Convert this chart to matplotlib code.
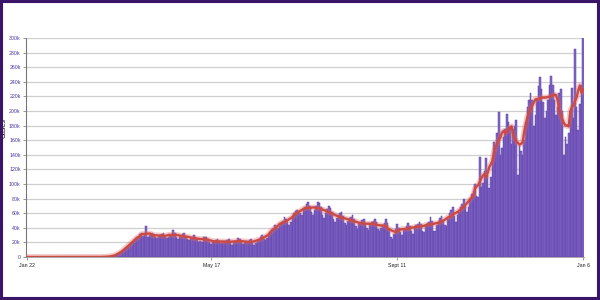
import matplotlib
matplotlib.use('Agg')
import matplotlib.pyplot as plt
import matplotlib.patches as patches
import numpy as np
import pandas as pd

# daily new cases (thousands), one value per day starting Jan 22
early_days = [0.0] * 39
march_start = [0.01, 0.02, 0.02, 0.03, 0.03, 0.05, 0.1, 0.1, 0.1, 0.2, 0.3, 0.4, 0.5, 0.6]
spring = [
    0.8, 1.2, 1.8, 2.5, 3.5, 5.0, 6.5, 8.5, 10.0, 11.5,
    13.5, 17, 18, 19.5, 21, 24, 26, 28, 31, 33,
    29, 30, 42, 28, 30, 32, 33, 31, 27, 26,
    29, 30, 31, 33, 28, 26, 27, 29, 32, 37,
    33, 27, 25, 28, 29, 31, 33, 29, 24, 23,
    25, 28, 30, 27, 26, 21, 22, 21, 28, 27,
    27, 25, 20, 18,
]
early_summer = [
    21, 22, 23, 24, 22, 19, 19, 20, 22, 23, 24, 20, 17, 21, 20, 22, 26,
    24, 22, 18, 19, 21, 21, 23, 25, 19, 17, 19, 23, 25, 27, 30, 24, 23,
]
weeks = [
    [26, 31, 34, 37, 39, 44, 41],
    [40, 42, 45, 50, 55, 52, 48],
    [44, 48, 56, 60, 63, 64, 62],
    [60, 58, 66, 68, 72, 75, 70],
    [62, 58, 65, 70, 76, 74, 68],
    [58, 54, 60, 66, 70, 67, 62],
    [52, 48, 54, 58, 60, 62, 56],
    [46, 44, 50, 53, 55, 57, 52],
    [42, 38, 46, 48, 51, 52, 47],
    [40, 37, 45, 48, 50, 52, 48],
    [38, 35, 40, 44, 46, 52, 46],
    [38, 28, 24, 32, 38, 45, 40],
    [34, 30, 38, 38, 42, 46, 42],
    [35, 32, 40, 44, 45, 48, 45],
    [36, 34, 42, 46, 48, 55, 50],
    [36, 35, 44, 50, 54, 56, 50],
    [44, 42, 52, 60, 64, 68, 56],
    [48, 58, 62, 68, 72, 80, 70],
    [62, 68, 80, 86, 90, 100, 84],
    [82, 137, 96, 102, 118, 135, 112],
    [95, 110, 135, 158, 145, 170, 198],
    [140, 150, 165, 175, 196, 185, 175],
    [155, 175, 180, 188, 112, 155, 145],
    [140, 160, 185, 205, 215, 225, 215],
    [180, 195, 215, 234, 247, 230, 212],
    [190, 200, 215, 235, 248, 235, 215],
    [195, 205, 225, 230, 200, 140, 165],
    [155, 170, 200, 232, 190, 285, 205, 174, 210, 235, 301],
]

cases = early_days + march_start + spring + early_summer + [v for w in weeks for v in w]
days = np.arange(len(cases))
avg = pd.Series(cases).rolling(7, center=True, min_periods=1).mean()

x_ticks = [0, 116, 233, 350]
x_labels = ['Jan 22', 'May 17', 'Sept 11', 'Jan 6']
y_ticks = list(range(0, 301, 20))
y_labels = ['0'] + [f'{v}k' for v in y_ticks[1:]]

plt.rcParams['font.family'] = ['Liberation Sans', 'DejaVu Sans']

fig = plt.figure(figsize=(6, 3), dpi=100)
ax = fig.add_axes([0.0437, 0.1433, 0.9293, 0.73])

ax.bar(days, cases, width=1.0, color='#8266c6', edgecolor='#5c3fa8', linewidth=0.35, zorder=2)
ax.plot(days, avg, color='#e06a66', linewidth=4.2, alpha=0.35, zorder=3, solid_capstyle='round')
ax.plot(days, avg, color='#cc4a44', linewidth=1.7, zorder=4, solid_capstyle='round')

ax.set_xlim(-0.5, 350.5)
ax.set_ylim(0, 300)
ax.set_xticks(x_ticks)
ax.set_xticklabels(x_labels, fontsize=3.8, color='#222222')
ax.set_yticks(y_ticks)
ax.set_yticklabels(y_labels, fontsize=3.8, color='#4a36a6')
ax.tick_params(axis='both', length=2.5, width=0.6, color='#888888', pad=1.5)

ax.grid(axis='y', color='#cfcfcf', linewidth=0.9, zorder=0)
ax.set_axisbelow(True)
for side in ['top', 'right']:
    ax.spines[side].set_visible(False)
ax.spines['left'].set_color('#777777')
ax.spines['left'].set_linewidth(0.8)
ax.spines['bottom'].set_color('#999999')
ax.spines['bottom'].set_linewidth(0.6)

ax.set_ylabel('Cases', fontsize=5, color='#111111')
ax.yaxis.set_label_coords(-0.034, 0.59)

fig.patches.append(patches.Rectangle((0, 0), 1, 1, transform=fig.transFigure, fill=False,
                                     edgecolor='#3a1468', linewidth=4.4, clip_on=False))

plt.savefig('out.png', dpi=100)
